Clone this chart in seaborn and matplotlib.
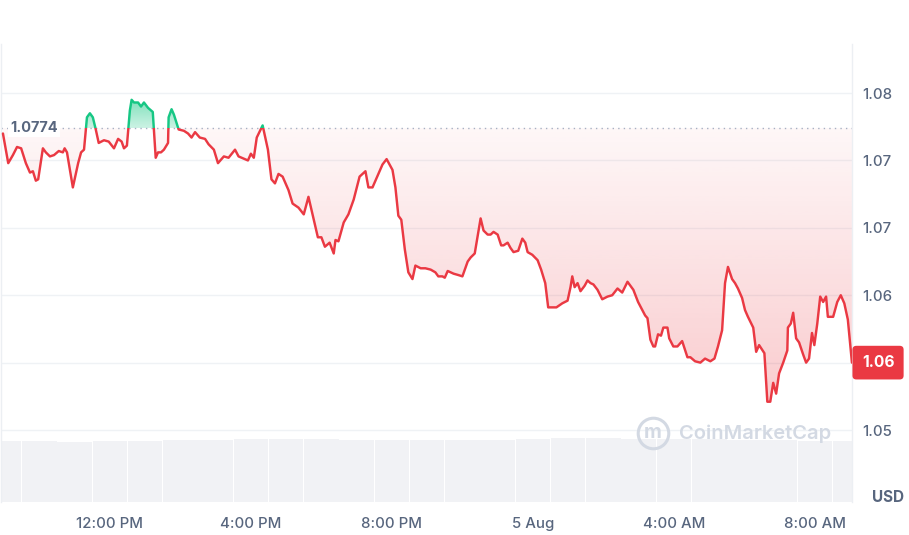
import numpy as np
import pandas as pd
import matplotlib
matplotlib.use("Agg")
import matplotlib.pyplot as plt
import matplotlib.transforms as mtransforms
from matplotlib.colors import to_rgb
from matplotlib.path import Path as MPath
from matplotlib.patches import Rectangle
import seaborn as sns

# price samples, minutes relative to 12:00 PM (4 Aug)
MINUTES = [
    -182, -173, -165, -158, -151, -143, -136, -131, -126, -122,
    -114, -109, -102, -95, -87, -80, -77, -73, -63, -54,
    -49, -44, -39, -34, -29, -24, -19, -10, -2, 7,
    14, 20, 24, 29, 34, 37, 41, 48, 53, 58,
    65, 73, 78, 82, 87, 92, 99, 100, 105, 109,
    117, 126, 133, 139, 145, 153, 162, 168, 177, 184,
    194, 202, 213, 219, 235, 240, 245, 250, 260, 269,
    275, 281, 287, 294, 304, 311, 321, 330, 338, 347,
    354, 360, 366, 374, 381, 384, 389, 398, 406, 415,
    425, 435, 440, 447, 456, 464, 471, 481, 486, 491,
    496, 502, 508, 515, 520, 529, 537, 546, 554, 559,
    566, 570, 575, 585, 593, 600, 609, 614, 621, 631,
    636, 643, 648, 653, 660, 666, 670, 677, 682, 687,
    695, 702, 707, 711, 719, 728, 734, 741, 746, 753,
    760, 770, 779, 784, 787, 791, 796, 801, 808, 813,
    818, 823, 830, 838, 847, 855, 864, 872, 881, 891,
    899, 911, 915, 920, 925, 928, 933, 938, 942, 949,
    952, 959, 966, 974, 983, 988, 996, 1005, 1013, 1022,
    1029, 1035, 1042, 1047, 1052, 1059, 1064, 1069, 1076, 1081,
    1086, 1095, 1100, 1105, 1114, 1119, 1124, 1129, 1134, 1139,
    1146, 1153, 1154, 1159, 1163, 1168, 1173, 1180, 1185, 1190,
    1195, 1199, 1204, 1209, 1214, 1219, 1222, 1231, 1238, 1244,
    1250, 1256, 1263,
]
PRICES = [
    1.0770, 1.0748, 1.0754, 1.0760, 1.0759, 1.0748, 1.0741, 1.0742, 1.0735, 1.0736,
    1.0759, 1.0756, 1.0753, 1.0754, 1.0757, 1.0756, 1.0759, 1.0756, 1.0730, 1.0748,
    1.0756, 1.0758, 1.0782, 1.0785, 1.0782, 1.0773, 1.0763, 1.0765, 1.0764, 1.0759,
    1.0766, 1.0764, 1.0759, 1.0761, 1.0787, 1.0795, 1.0793, 1.0793, 1.0790, 1.0793,
    1.0789, 1.0786, 1.0752, 1.0756, 1.0756, 1.0758, 1.0763, 1.0782, 1.0788, 1.0784,
    1.0773, 1.0772, 1.0770, 1.0767, 1.0771, 1.0767, 1.0766, 1.0762, 1.0758, 1.0748,
    1.0753, 1.0752, 1.0758, 1.0753, 1.0750, 1.0755, 1.0752, 1.0767, 1.0776, 1.0758,
    1.0736, 1.0733, 1.0740, 1.0738, 1.0728, 1.0718, 1.0715, 1.0710, 1.0723, 1.0706,
    1.0693, 1.0693, 1.0686, 1.0689, 1.0681, 1.0691, 1.0690, 1.0704, 1.0710, 1.0721,
    1.0738, 1.0742, 1.0730, 1.0730, 1.0739, 1.0747, 1.0751, 1.0743, 1.0730, 1.0709,
    1.0706, 1.0684, 1.0667, 1.0662, 1.0672, 1.0670, 1.0670, 1.0669, 1.0667, 1.0664,
    1.0664, 1.0663, 1.0668, 1.0666, 1.0665, 1.0664, 1.0675, 1.0678, 1.0681, 1.0707,
    1.0698, 1.0695, 1.0695, 1.0697, 1.0695, 1.0687, 1.0687, 1.0689, 1.0685, 1.0682,
    1.0683, 1.0692, 1.0689, 1.0682, 1.0680, 1.0676, 1.0669, 1.0659, 1.0641, 1.0641,
    1.0641, 1.0644, 1.0646, 1.0656, 1.0664, 1.0656, 1.0659, 1.0653, 1.0657, 1.0661,
    1.0659, 1.0658, 1.0654, 1.0647, 1.0649, 1.0650, 1.0655, 1.0652, 1.0660, 1.0654,
    1.0645, 1.0635, 1.0633, 1.0617, 1.0612, 1.0612, 1.0621, 1.0620, 1.0626, 1.0626,
    1.0618, 1.0612, 1.0612, 1.0616, 1.0604, 1.0604, 1.0601, 1.0600, 1.0603, 1.0601,
    1.0603, 1.0612, 1.0624, 1.0659, 1.0671, 1.0662, 1.0659, 1.0655, 1.0648, 1.0639,
    1.0634, 1.0626, 1.0608, 1.0613, 1.0607, 1.0571, 1.0571, 1.0585, 1.0577, 1.0592,
    1.0600, 1.0609, 1.0626, 1.0629, 1.0637, 1.0618, 1.0615, 1.0606, 1.0600, 1.0603,
    1.0622, 1.0613, 1.0629, 1.0649, 1.0645, 1.0649, 1.0634, 1.0634, 1.0645, 1.0650,
    1.0644, 1.0632, 1.0600,
]
REF_PRICE = 1.0774

# hourly volume (M USD), hours relative to 12:00 PM
VOL_HOURS = list(range(-3, 22))
VOLUMES = [3.10, 3.10, 3.08, 3.10, 3.12, 3.15, 3.18, 3.20, 3.22, 3.20, 3.18, 3.16, 3.15,
           3.15, 3.18, 3.22, 3.25, 3.25, 3.22, 3.20, 3.20, 3.18, 3.15, 3.14, 3.12]

YTICKS = [1.055, 1.060, 1.065, 1.070, 1.075, 1.080]
YTICK_LABELS = ["1.05", "1.06", "1.06", "1.07", "1.07", "1.08"]
XTICKS = [0, 240, 480, 720, 960, 1200]
XTICK_LABELS = ["12:00 PM", "4:00 PM", "8:00 PM", "5 Aug", "4:00 AM", "8:00 AM"]

RED = "#ea3943"
GREEN = "#16c784"
TEXT = "#58667e"
GRID = "#eff2f5"

XLIM = (-185.3, 1263.1)
YLIM = (1.04966, 1.08364)

sns.set_theme(style="white")
plt.rcParams["font.family"] = ["Inter", "DejaVu Sans"]


def gradient_fill(ax, x, y, where, color, a_near, a_far, far):
    coll = ax.fill_between(x, y, REF_PRICE, where=where, interpolate=True,
                           facecolor="none", edgecolor="none")
    path = MPath.make_compound_path(*coll.get_paths())
    lo, hi = sorted([REF_PRICE, far])
    alphas = np.linspace(a_near, a_far, 256)
    if far < REF_PRICE:
        alphas = alphas[::-1]
    img = np.zeros((256, 1, 4))
    img[:, 0, :3] = to_rgb(color)
    img[:, 0, 3] = alphas
    im = ax.imshow(img, extent=[XLIM[0], XLIM[1], lo, hi], origin="lower",
                   aspect="auto", zorder=1, interpolation="bilinear")
    im.set_clip_path(path, ax.transData)


df = pd.DataFrame({"minute": MINUTES, "price": PRICES})
x = df["minute"].to_numpy()
y = df["price"].to_numpy()

fig = plt.figure(figsize=(9.09, 5.35), dpi=100)
rect = [1 / 909, 33 / 535, 851 / 909, 458 / 535]

# volume strip at the bottom
vax = fig.add_axes(rect, zorder=0)
vax.bar(np.array(VOL_HOURS) * 60, VOLUMES, width=59, color="#f1f2f5", linewidth=0)
vax.set_xlim(XLIM)
vax.set_ylim(0, max(VOLUMES) * 7.2)
vax.axis("off")

ax = fig.add_axes(rect, zorder=1)
ax.patch.set_visible(False)

gradient_fill(ax, x, y, y <= REF_PRICE, RED, 0.04, 0.26, 1.0570)
gradient_fill(ax, x, y, y >= REF_PRICE, GREEN, 0.22, 0.55, 1.0795)

# line coloured by side of the reference price
for color, lo, hi in [(RED, YLIM[0] - 1, REF_PRICE), (GREEN, REF_PRICE, YLIM[1] + 1)]:
    sns.lineplot(data=df, x="minute", y="price", color=color, lw=1.75,
                 estimator=None, sort=False, ax=ax, zorder=3)
    clip = Rectangle((XLIM[0], lo), XLIM[1] - XLIM[0], hi - lo, transform=ax.transData)
    ax.lines[-1].set_clip_path(clip)

ax.axhline(REF_PRICE, color="#a6b0c3", lw=1, ls=(0, (1, 3)), zorder=2)
trans = mtransforms.blended_transform_factory(ax.transAxes, ax.transData)
ax.text(0.0106, REF_PRICE, "1.0774", transform=trans, ha="left", va="center",
        color=TEXT, fontsize=10.5, fontweight="bold", zorder=4,
        bbox=dict(boxstyle="square,pad=0.15", fc="white", ec="none"))

ax.set_xlim(XLIM)
ax.set_ylim(YLIM)
ax.set_xticks(XTICKS, labels=XTICK_LABELS)
ax.set_yticks(YTICKS, labels=YTICK_LABELS)
ax.yaxis.tick_right()
ax.set_xlabel("")
ax.set_ylabel("")
ax.tick_params(axis="x", length=0, pad=10.5, labelsize=10.8, labelcolor=TEXT)
ax.tick_params(axis="y", length=0, pad=7.5, labelsize=10.8, labelcolor=TEXT)
for lab in ax.get_xticklabels() + ax.get_yticklabels():
    lab.set_fontweight("medium")
# the price tag sits on top of the axis label at the last price
for tick, lab in zip(YTICKS, ax.get_yticklabels()):
    if abs(tick - PRICES[-1]) < 0.0015:
        lab.set_visible(False)
ax.grid(axis="y", color=GRID, lw=1)
ax.grid(axis="x", visible=False)
ax.set_axisbelow(True)
for side in ["top", "bottom"]:
    ax.spines[side].set_visible(False)
for side in ["left", "right"]:
    ax.spines[side].set_color("#eceff3")
    ax.spines[side].set_linewidth(1)

# current price tag
ax.text(1.0115, PRICES[-1], f"{PRICES[-1]:.2f}", transform=trans, ha="left", va="center",
        color="white", fontsize=11.2, fontweight="bold", zorder=5, clip_on=False,
        bbox=dict(boxstyle="round,pad=0.6,rounding_size=0.25", fc=RED, ec="none"))

# watermark
ax.plot([0.766], [0.151], marker="o", ms=22, mfc="none", mec="#d3d9e3", mew=2.2,
        transform=ax.transAxes, zorder=2)
ax.text(0.766, 0.151, "m", transform=ax.transAxes, ha="center", va="center",
        color="#d3d9e3", fontsize=14, fontweight="bold", zorder=2)
ax.text(0.797, 0.149, "CoinMarketCap", transform=ax.transAxes, ha="left", va="center",
        color="#d3d9e3", fontsize=14.5, fontweight="semibold", zorder=2)

fig.text(0.977, 0.071, "USD", ha="center", va="center", color=TEXT,
         fontsize=11, fontweight="bold")

fig.savefig("out.png", dpi=100)
